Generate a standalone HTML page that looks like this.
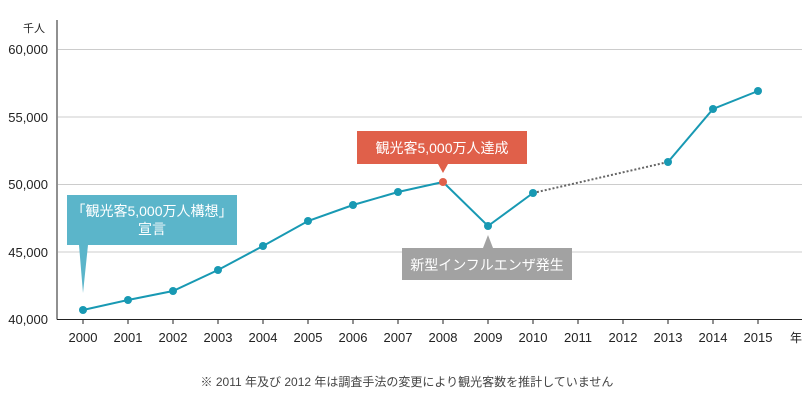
<!DOCTYPE html><html><head><meta charset="utf-8"><style>body{margin:0;background:#fff}svg{display:block;font-family:"Liberation Sans","Noto Sans CJK JP",sans-serif}</style></head><body>
<svg width="802" height="408" viewBox="0 0 802 408">
<g stroke="#ccc" stroke-width="1">
<line x1="58" y1="49.5" x2="802" y2="49.5"/><line x1="58" y1="117" x2="802" y2="117"/><line x1="58" y1="184.5" x2="802" y2="184.5"/><line x1="58" y1="252" x2="802" y2="252"/>
</g>
<line x1="57" y1="20" x2="57" y2="319.5" stroke="#222" stroke-width="1"/>
<line x1="57" y1="319.5" x2="802" y2="319.5" stroke="#222" stroke-width="1"/>
<g stroke="#222"><line x1="83" y1="320" x2="83" y2="324"/><line x1="128" y1="320" x2="128" y2="324"/><line x1="173" y1="320" x2="173" y2="324"/><line x1="218" y1="320" x2="218" y2="324"/><line x1="263" y1="320" x2="263" y2="324"/><line x1="308" y1="320" x2="308" y2="324"/><line x1="353" y1="320" x2="353" y2="324"/><line x1="398" y1="320" x2="398" y2="324"/><line x1="443" y1="320" x2="443" y2="324"/><line x1="488" y1="320" x2="488" y2="324"/><line x1="533" y1="320" x2="533" y2="324"/><line x1="578" y1="320" x2="578" y2="324"/><line x1="623" y1="320" x2="623" y2="324"/><line x1="668" y1="320" x2="668" y2="324"/><line x1="713" y1="320" x2="713" y2="324"/><line x1="758" y1="320" x2="758" y2="324"/></g>
<g font-size="13" fill="#222" text-anchor="end"><text x="48" y="54">60,000</text><text x="48" y="122">55,000</text><text x="48" y="189">50,000</text><text x="48" y="257">45,000</text><text x="48" y="324">40,000</text></g>
<text x="45" y="32" font-size="11" fill="#222" text-anchor="end">千人</text>
<g font-size="13" fill="#222" text-anchor="middle"><text x="83" y="342">2000</text><text x="128" y="342">2001</text><text x="173" y="342">2002</text><text x="218" y="342">2003</text><text x="263" y="342">2004</text><text x="308" y="342">2005</text><text x="353" y="342">2006</text><text x="398" y="342">2007</text><text x="443" y="342">2008</text><text x="488" y="342">2009</text><text x="533" y="342">2010</text><text x="578" y="342">2011</text><text x="623" y="342">2012</text><text x="668" y="342">2013</text><text x="713" y="342">2014</text><text x="758" y="342">2015</text><text x="796" y="342" font-size="12">年</text></g>
<polyline fill="none" stroke="#1899b3" stroke-width="2" points="83,310 128,300 173,291 218,270 263,246 308,221 353,205 398,192 443,182 488,226 533,193"/>
<polyline fill="none" stroke="#1899b3" stroke-width="2" points="668,162 713,109 758,91"/>
<line x1="533" y1="193" x2="668" y2="162" stroke="#666" stroke-width="2" stroke-dasharray="2,2"/>
<g fill="#1899b3"><circle cx="83" cy="310" r="4"/><circle cx="128" cy="300" r="4"/><circle cx="173" cy="291" r="4"/><circle cx="218" cy="270" r="4"/><circle cx="263" cy="246" r="4"/><circle cx="308" cy="221" r="4"/><circle cx="353" cy="205" r="4"/><circle cx="398" cy="192" r="4"/><circle cx="488" cy="226" r="4"/><circle cx="533" cy="193" r="4"/><circle cx="668" cy="162" r="4"/><circle cx="713" cy="109" r="4"/><circle cx="758" cy="91" r="4"/></g>
<circle cx="443" cy="182" r="4" fill="#e0604a"/>
<rect x="67" y="195" width="170" height="50" fill="#5bb5ca"/>
<polygon points="79,245 88,245 83,293" fill="#5bb5ca"/>
<text x="152" y="216" font-size="14" fill="#fff" text-anchor="middle">「観光客5,000万人構想」</text>
<text x="152" y="234" font-size="14" fill="#fff" text-anchor="middle">宣言</text>
<rect x="357" y="131" width="170" height="33" fill="#e0604a"/>
<polygon points="438,164 448,164 443,173" fill="#e0604a"/>
<text x="442" y="153" font-size="14" fill="#fff" text-anchor="middle">観光客5,000万人達成</text>
<rect x="402" y="248" width="170" height="32" fill="#a2a2a2"/>
<polygon points="483,248 493,248 488,235" fill="#a2a2a2"/>
<text x="487" y="270" font-size="14" fill="#fff" text-anchor="middle">新型インフルエンザ発生</text>
<text x="407" y="386" font-size="12" fill="#444" text-anchor="middle">※ 2011 年及び 2012 年は調査手法の変更により観光客数を推計していません</text>
</svg></body></html>
